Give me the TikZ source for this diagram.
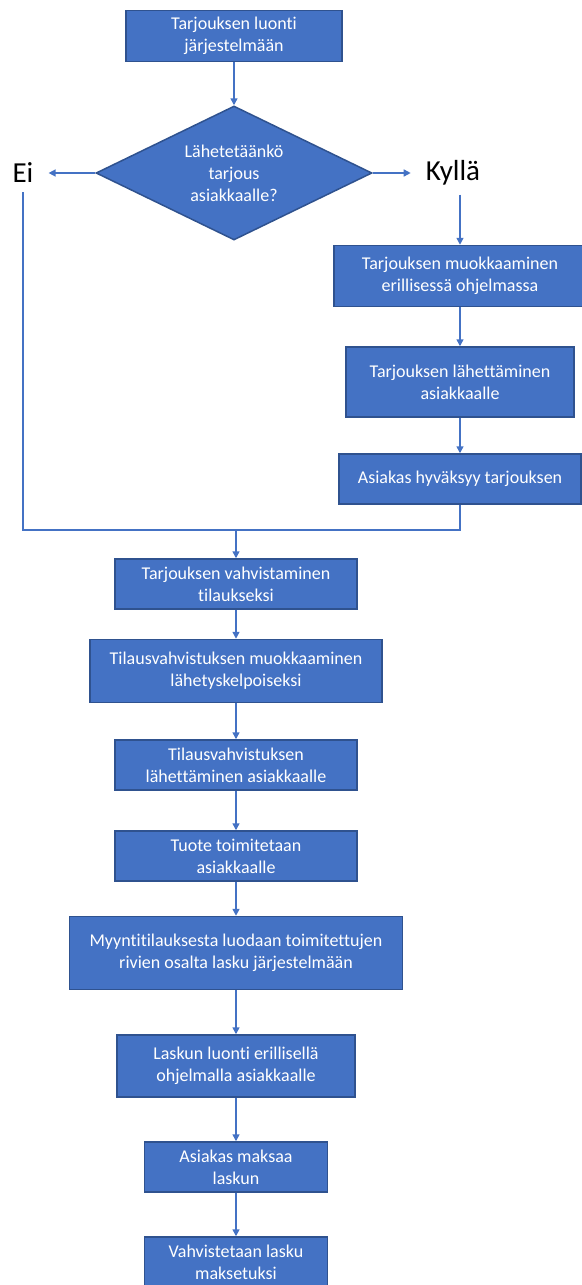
\documentclass[tikz,border=0pt]{standalone}
\usepackage{fontspec}
\setmainfont{Carlito}[Ligatures=NoCommon]
\usepackage{tikz}
\usetikzlibrary{shapes.geometric,arrows.meta}
\definecolor{toimistosininen}{HTML}{4472C4}
\definecolor{reunasininen}{HTML}{2F528F}

\begin{document}
\begin{tikzpicture}[x=1pt,y=-1pt,
    laatikko/.style={draw=reunasininen, line width=1.5pt, fill=toimistosininen,
        text=white, align=center, inner sep=0pt, font=\fontsize{18}{22}\selectfont},
    paatos/.style={laatikko, shape=diamond, aspect=2},
    vastaus/.style={font=\fontsize{29}{34}\selectfont, inner xsep=15pt, inner ysep=9pt},
    yhteys/.style={draw=toimistosininen, line width=1.5pt},
    >={Triangle[length=7pt,width=7pt]}]
    \useasboundingbox (0,0) rectangle (581,1285);
    % Start and decision
    \node[laatikko, minimum width=216pt, minimum height=51pt] (luonti) at (234,36)
        {Tarjouksen luonti\\järjestelmään};
    \node[paatos, minimum width=276pt, minimum height=134pt] (lahetetaanko) at (234,173)
        {Lähetetäänkö\\tarjous\\asiakkaalle?};
    \node[vastaus] (ei) at (23,173) {Ei};
    \node[vastaus] (kylla) at (453,173) {Kyllä};
    % Right branch
    \node[laatikko, minimum width=252pt, minimum height=61pt] (muokkaus) at (460,276)
        {Tarjouksen muokkaaminen\\erillisessä ohjelmassa};
    \node[laatikko, minimum width=228pt, minimum height=70pt] (lahettaminen) at (460,382)
        {Tarjouksen lähettäminen\\asiakkaalle};
    \node[laatikko, minimum width=242pt, minimum height=50pt] (hyvaksyy) at (460,479)
        {Asiakas hyväksyy tarjouksen};
    % Main column
    \coordinate (liitos) at (236,530);
    \node[laatikko, minimum width=242pt, minimum height=50pt] (vahvistus) at (236,584)
        {Tarjouksen vahvistaminen\\tilaukseksi};
    \node[laatikko, minimum width=292pt, minimum height=63pt] (tilausmuokkaus) at (236,671)
        {Tilausvahvistuksen muokkaaminen\\lähetyskelpoiseksi};
    \node[laatikko, minimum width=242pt, minimum height=50pt] (tilauslahetys) at (236,765)
        {Tilausvahvistuksen\\lähettäminen asiakkaalle};
    \node[laatikko, minimum width=242pt, minimum height=50pt] (toimitus) at (236,856)
        {Tuote toimitetaan\\asiakkaalle};
    \node[laatikko, minimum width=333pt, minimum height=73pt] (laskutus) at (236,953)
        {Myyntitilauksesta luodaan toimitettujen\\rivien osalta lasku järjestelmään};
    \node[laatikko, minimum width=238pt, minimum height=62pt] (laskunluonti) at (236,1066)
        {Laskun luonti erillisellä\\ohjelmalla asiakkaalle};
    \node[laatikko, minimum width=183pt, minimum height=50pt] (maksu) at (236,1167)
        {Asiakas maksaa\\laskun};
    \node[laatikko, minimum width=183pt, minimum height=50pt] (maksettu) at (236,1262)
        {Vahvistetaan lasku\\maksetuksi};
    % Decision arrows
    \draw[yhteys,->] (luonti.south) -- (lahetetaanko.north);
    \draw[yhteys,->] (lahetetaanko.west) -- (ei.east);
    \draw[yhteys,->] (lahetetaanko.east) -- (kylla.west);
    \draw[yhteys,->] (kylla.south -| muokkaus.north) -- (muokkaus.north);
    \draw[yhteys,->] (muokkaus.south) -- (lahettaminen.north);
    \draw[yhteys,->] (lahettaminen.south) -- (hyvaksyy.north);
    % Both branches join
    \draw[yhteys] (ei.south) |- (liitos);
    \draw[yhteys] (hyvaksyy.south) |- (liitos);
    \draw[yhteys,->] (liitos) -- (vahvistus.north);
    % Rest of the flow
    \draw[yhteys,->] (vahvistus.south) -- (tilausmuokkaus.north);
    \draw[yhteys,->] (tilausmuokkaus.south) -- (tilauslahetys.north);
    \draw[yhteys,->] (tilauslahetys.south) -- (toimitus.north);
    \draw[yhteys,->] (toimitus.south) -- (laskutus.north);
    \draw[yhteys,->] (laskutus.south) -- (laskunluonti.north);
    \draw[yhteys,->] (laskunluonti.south) -- (maksu.north);
    \draw[yhteys,->] (maksu.south) -- (maksettu.north);
\end{tikzpicture}
\end{document}
